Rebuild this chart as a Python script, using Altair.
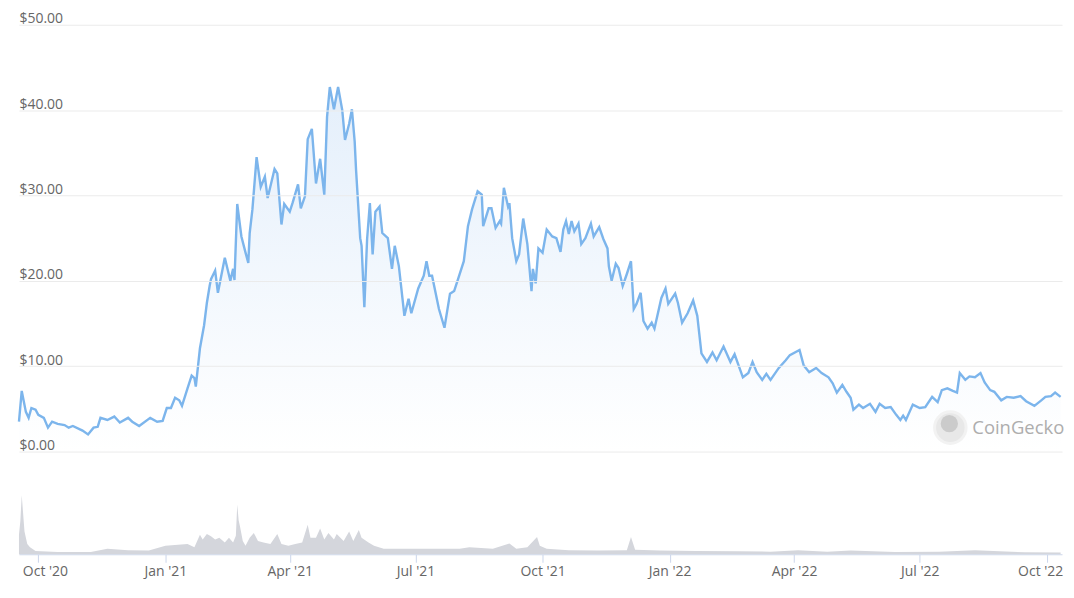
import altair as alt
import pandas as pd

# ---------------- data ----------------
price_dates = [
    "2020-09-17", "2020-09-19", "2020-09-22", "2020-09-24", "2020-09-26", "2020-09-29",
    "2020-10-01", "2020-10-05", "2020-10-08", "2020-10-11", "2020-10-15", "2020-10-20",
    "2020-10-23", "2020-10-26", "2020-11-02", "2020-11-06", "2020-11-10", "2020-11-13",
    "2020-11-15", "2020-11-20", "2020-11-25", "2020-11-29", "2020-12-05", "2020-12-08",
    "2020-12-13", "2020-12-21", "2020-12-26", "2020-12-30", "2021-01-02", "2021-01-05",
    "2021-01-08", "2021-01-11", "2021-01-13", "2021-01-17", "2021-01-20", "2021-01-22",
    "2021-01-23", "2021-01-26", "2021-01-29", "2021-01-31", "2021-02-02", "2021-02-03",
    "2021-02-06", "2021-02-08", "2021-02-13", "2021-02-17", "2021-02-19", "2021-02-20",
    "2021-02-22", "2021-02-25", "2021-02-28", "2021-03-02", "2021-03-03", "2021-03-05",
    "2021-03-08", "2021-03-11", "2021-03-14", "2021-03-16", "2021-03-21", "2021-03-23",
    "2021-03-26", "2021-03-28", "2021-04-01", "2021-04-03", "2021-04-07", "2021-04-09",
    "2021-04-12", "2021-04-14", "2021-04-17", "2021-04-20", "2021-04-23", "2021-04-26",
    "2021-04-28", "2021-04-30", "2021-05-03", "2021-05-06", "2021-05-09", "2021-05-11",
    "2021-05-14", "2021-05-16", "2021-05-18", "2021-05-19", "2021-05-22", "2021-05-23",
    "2021-05-25", "2021-05-27", "2021-05-29", "2021-05-31", "2021-06-02", "2021-06-05",
    "2021-06-07", "2021-06-11", "2021-06-14", "2021-06-16", "2021-06-19", "2021-06-23",
    "2021-06-26", "2021-06-28", "2021-07-03", "2021-07-07", "2021-07-09", "2021-07-11",
    "2021-07-13", "2021-07-18", "2021-07-22", "2021-07-26", "2021-07-29", "2021-08-01",
    "2021-08-05", "2021-08-08", "2021-08-11", "2021-08-15", "2021-08-18", "2021-08-19",
    "2021-08-23", "2021-08-25", "2021-08-28", "2021-08-31", "2021-09-01", "2021-09-03",
    "2021-09-06", "2021-09-07", "2021-09-09", "2021-09-12", "2021-09-14", "2021-09-17",
    "2021-09-20", "2021-09-23", "2021-09-24", "2021-09-26", "2021-09-28", "2021-10-01",
    "2021-10-04", "2021-10-08", "2021-10-11", "2021-10-14", "2021-10-16", "2021-10-18",
    "2021-10-20", "2021-10-22", "2021-10-24", "2021-10-27", "2021-10-29", "2021-11-01",
    "2021-11-05", "2021-11-07", "2021-11-11", "2021-11-14", "2021-11-17", "2021-11-18",
    "2021-11-20", "2021-11-23", "2021-11-25", "2021-11-28", "2021-12-01", "2021-12-04",
    "2021-12-06", "2021-12-08", "2021-12-11", "2021-12-13", "2021-12-16", "2021-12-19",
    "2021-12-21", "2021-12-26", "2021-12-29", "2021-12-31", "2022-01-05", "2022-01-07",
    "2022-01-10", "2022-01-14", "2022-01-18", "2022-01-21", "2022-01-24", "2022-01-28",
    "2022-02-01", "2022-02-04", "2022-02-09", "2022-02-14", "2022-02-17", "2022-02-23",
    "2022-02-27", "2022-03-02", "2022-03-05", "2022-03-09", "2022-03-12", "2022-03-15",
    "2022-03-21", "2022-03-26", "2022-03-29", "2022-04-05", "2022-04-08", "2022-04-12",
    "2022-04-17", "2022-04-21", "2022-04-26", "2022-04-29", "2022-05-02", "2022-05-06",
    "2022-05-09", "2022-05-12", "2022-05-14", "2022-05-18", "2022-05-21", "2022-05-26",
    "2022-05-30", "2022-06-02", "2022-06-06", "2022-06-10", "2022-06-14", "2022-06-17",
    "2022-06-19", "2022-06-21", "2022-06-26", "2022-07-01", "2022-07-05", "2022-07-10",
    "2022-07-14", "2022-07-17", "2022-07-21", "2022-07-25", "2022-07-28", "2022-07-30",
    "2022-08-03", "2022-08-06", "2022-08-10", "2022-08-14", "2022-08-17", "2022-08-21",
    "2022-08-24", "2022-08-29", "2022-09-02", "2022-09-07", "2022-09-12", "2022-09-16",
    "2022-09-22", "2022-09-27", "2022-09-30", "2022-10-04", "2022-10-07", "2022-10-11",
]
price_values = [
    3.5, 7.1, 4.65, 3.95, 5.1, 4.9,
    4.3, 3.95, 2.8, 3.5, 3.25, 3.1,
    2.8, 3.0, 2.45, 2.0, 2.8, 2.9,
    3.95, 3.7, 4.1, 3.4, 3.95, 3.5,
    3.0, 3.95, 3.5, 3.6, 5.1, 5.1,
    6.3, 6.0, 5.35, 7.4, 8.9, 8.6,
    7.6, 12.1, 14.8, 17.4, 19.4, 20.2,
    21.2, 18.6, 22.7, 20.0, 21.4, 20.1,
    29.0, 25.2, 23.3, 22.1, 25.6, 28.4,
    34.5, 31.0, 32.2, 29.7, 33.1, 32.6,
    26.6, 29.0, 28.1, 29.1, 31.3, 28.5,
    29.9, 36.6, 37.8, 31.4, 34.3, 30.1,
    39.2, 42.7, 40.1, 42.7, 40.0, 36.5,
    38.4, 40.1, 36.3, 33.0, 25.0, 24.1,
    16.9, 24.9, 29.1, 23.1, 28.1, 28.7,
    25.6, 25.0, 21.4, 24.1, 21.7, 15.9,
    17.9, 16.2, 19.1, 20.6, 22.3, 20.6,
    20.6, 16.7, 14.5, 18.5, 18.8, 20.3,
    22.3, 26.4, 28.4, 30.5, 30.1, 26.4,
    28.5, 28.5, 26.2, 27.0, 26.7, 30.9,
    28.7, 29.1, 25.0, 22.3, 23.1, 27.3,
    24.3, 18.8, 21.4, 19.7, 23.8, 23.3,
    26.0, 25.2, 25.0, 23.4, 26.0, 27.0,
    25.5, 27.0, 25.8, 26.7, 24.3, 25.0,
    26.7, 25.2, 26.3, 24.9, 23.8, 21.7,
    20.0, 22.0, 21.5, 19.4, 20.8, 22.3,
    16.7, 17.3, 18.6, 15.3, 14.4, 15.1,
    14.4, 18.0, 19.1, 17.3, 18.5, 17.4,
    15.1, 16.2, 17.7, 15.9, 11.5, 10.5,
    11.6, 10.7, 12.3, 10.5, 11.4, 8.7,
    9.2, 10.5, 9.3, 8.4, 9.1, 8.4,
    9.8, 10.7, 11.3, 11.9, 10.1, 9.3,
    9.8, 9.2, 8.7, 8.0, 6.9, 7.8,
    7.0, 6.3, 4.9, 5.5, 5.1, 5.6,
    4.65, 5.6, 5.1, 5.2, 4.3, 3.7,
    4.2, 3.7, 5.5, 5.1, 5.2, 6.4,
    5.8, 7.2, 7.4, 7.1, 6.9, 9.2,
    8.4, 8.8, 8.7, 9.2, 8.1, 7.2,
    7.0, 6.0, 6.4, 6.3, 6.5, 5.9,
    5.35, 6.0, 6.4, 6.5, 6.9, 6.4,
]

volume_dates = [
    "2020-09-17", "2020-09-18", "2020-09-19", "2020-09-21", "2020-09-23", "2020-09-25",
    "2020-09-29", "2020-10-15", "2020-11-08", "2020-11-20", "2020-12-05", "2020-12-20",
    "2021-01-01", "2021-01-17", "2021-01-22", "2021-01-26", "2021-01-28", "2021-01-31",
    "2021-02-03", "2021-02-06", "2021-02-09", "2021-02-13", "2021-02-16", "2021-02-19",
    "2021-02-21", "2021-02-22", "2021-02-23", "2021-02-24", "2021-02-26", "2021-02-28",
    "2021-03-03", "2021-03-06", "2021-03-09", "2021-03-13", "2021-03-18", "2021-03-23",
    "2021-03-26", "2021-03-31", "2021-04-05", "2021-04-10", "2021-04-14", "2021-04-16",
    "2021-04-20", "2021-04-23", "2021-04-26", "2021-04-29", "2021-05-03", "2021-05-05",
    "2021-05-10", "2021-05-14", "2021-05-17", "2021-05-21", "2021-05-23", "2021-05-28",
    "2021-06-01", "2021-06-08", "2021-06-13", "2021-07-08", "2021-08-02", "2021-08-09",
    "2021-08-26", "2021-09-07", "2021-09-12", "2021-09-20", "2021-09-27", "2021-09-29",
    "2021-10-04", "2021-10-20", "2021-11-10", "2021-12-01", "2021-12-04", "2021-12-07",
    "2021-12-25", "2022-01-20", "2022-02-20", "2022-03-15", "2022-04-04", "2022-04-25",
    "2022-05-12", "2022-06-13", "2022-07-15", "2022-08-10", "2022-09-15", "2022-10-11",
]
volume_values = [
    530, 900, 1600, 620, 280, 190,
    90, 60, 60, 150, 110, 100,
    230, 280, 190, 530, 400, 550,
    490, 400, 450, 320, 450, 320,
    500, 1350, 920, 750, 360, 230,
    450, 580, 360, 320, 280, 550,
    280, 230, 280, 320, 800, 450,
    450, 700, 400, 580, 400, 550,
    360, 620, 360, 660, 450, 320,
    230, 150, 150, 150, 150, 190,
    150, 290, 150, 190, 470, 230,
    150, 110, 100, 110, 470, 120,
    100, 90, 80, 70, 110, 70,
    100, 60, 70, 110, 55, 50,
]

tick_dates = [
    (2020, 10), (2021, 1), (2021, 4), (2021, 7), (2021, 10),
    (2022, 1), (2022, 4), (2022, 7), (2022, 10),
]
y_ticks = [0, 10, 20, 30, 40, 50]

# ---------------- chart ----------------
price_df = pd.DataFrame({"date": pd.to_datetime(price_dates), "price": price_values})
vol_df = pd.DataFrame({"date": pd.to_datetime(volume_dates), "volume": volume_values})
wm_df = pd.DataFrame({"label": ["CoinGecko"]})

FONT = "Open Sans"
W = 1046
x_domain = [alt.DateTime(year=2020, month=9, date=17), alt.DateTime(year=2022, month=10, date=12)]
x_scale = alt.Scale(domain=x_domain)
y_scale = alt.Scale(domain=[0, 50], nice=False, zero=True)

y_axis = alt.Axis(
    values=y_ticks, format="$,.2f", title=None,
    grid=True, gridColor="#ebebeb", gridWidth=1,
    domain=False, ticks=False, tickSize=0,
    labelAlign="left", labelBaseline="alphabetic",
    labelPadding=0, labelOffset=-2,
    labelColor="#666666", labelFontSize=14, labelFont=FONT,
    zindex=1,
)

gradient = alt.Gradient(
    gradient="linear",
    stops=[
        alt.GradientStop(color="#e4effb", offset=0),
        alt.GradientStop(color="#ffffff", offset=1),
    ],
    x1=1, x2=1, y1=0, y2=1,
)

area = alt.Chart(price_df).mark_area(color=gradient).encode(
    x=alt.X("date:T", scale=x_scale, axis=None),
    y=alt.Y("price:Q", scale=y_scale, axis=y_axis),
)

line = alt.Chart(price_df).mark_line(color="#7cb5ec", strokeWidth=2.4).encode(
    x=alt.X("date:T", scale=x_scale, axis=None),
    y=alt.Y("price:Q", scale=y_scale, axis=y_axis),
)

wm_circle = alt.Chart(wm_df).mark_circle(
    size=1000, color="#e8e8e8", stroke="#f2f2f2", strokeWidth=3, opacity=1
).encode(x=alt.value(934), y=alt.value(404))

wm_head = alt.Chart(wm_df).mark_circle(
    size=300, color="#cbcbcb", opacity=1
).encode(x=alt.value(933), y=alt.value(400))

wm_text = alt.Chart(wm_df).mark_text(
    align="left", baseline="middle", fontSize=18.5, color="#adadad", font=FONT
).encode(x=alt.value(956), y=alt.value(404), text="label:N")

price_chart = alt.layer(area, wm_circle, wm_head, wm_text, line).properties(
    width=W, height=428
)

vol_chart = alt.Chart(vol_df).mark_area(color="#d4d6dc", interpolate="linear").encode(
    x=alt.X(
        "date:T",
        scale=x_scale,
        axis=alt.Axis(
            values=[alt.DateTime(year=y, month=m, date=1) for y, m in tick_dates],
            format="%b '%y", title=None, grid=False,
            domainColor="#ccd6eb", domainWidth=1,
            tickColor="#ccd6eb", tickSize=8, tickWidth=1,
            labelPadding=2, labelColor="#666666", labelFontSize=14, labelFont=FONT,
            labelFlush=20, labelFlushOffset=16,
        ),
    ),
    y=alt.Y("volume:Q", scale=alt.Scale(domain=[0, 1650], nice=False), axis=None),
).properties(width=W, height=61)

chart = (
    alt.vconcat(price_chart, vol_chart, spacing=41)
    .properties(padding={"left": 6, "top": 3, "right": 0, "bottom": 0})
    .configure(font=FONT)
    .configure_view(stroke=None)
)

chart.save("out.html", embed_options={"renderer": "svg", "actions": False})
